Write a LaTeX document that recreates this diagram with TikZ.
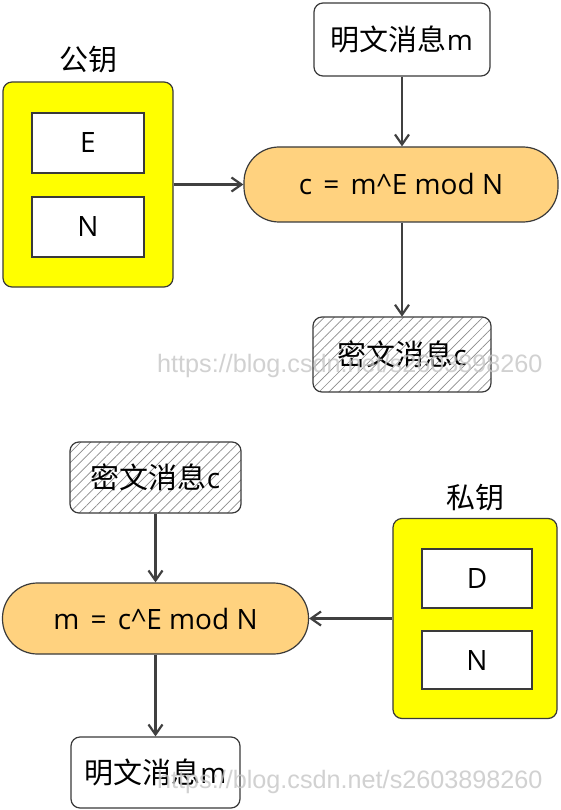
\documentclass[tikz,border=0pt]{standalone}
\usepackage{fontspec}
\setmainfont{Open Sans}
\newfontfamily\cjk{Noto Sans CJK SC}
\newfontfamily\wmfont{Liberation Sans}
\usetikzlibrary{arrows.meta,patterns.meta}
\definecolor{keyyellow}{HTML}{FFFF00}
\definecolor{opfill}{HTML}{FFD27F}
\definecolor{edge}{HTML}{3A3A3A}
\definecolor{arrowc}{HTML}{404040}
\newcommand{\eqsp}{\hspace{0.4em}}
\tikzset{
  txt/.style={font=\fontsize{28}{32}\selectfont},
  keybox/.style={draw=edge, line width=1.2pt, fill=keyyellow, rounded corners=9pt, inner sep=0pt},
  fieldbox/.style={draw=edge, line width=1.2pt, fill=white, inner sep=0pt, txt},
  msgbox/.style={draw=edge, line width=1.2pt, fill=white, rounded corners=9pt, inner sep=0pt, txt},
  cipherbox/.style={draw=edge, line width=1.2pt, rounded corners=9pt, inner sep=0pt, txt,
    pattern={Lines[angle=45,distance=7pt,line width=0.7pt]}, pattern color=gray!90},
  opbox/.style={draw=edge, line width=1.2pt, fill=opfill, rounded corners=35pt, inner sep=0pt, txt},
  flow/.style={draw=arrowc, line width=2.2pt, -{Straight Barb[length=10pt,width=14pt]}},
  keylabel/.style={inner sep=0pt, font=\cjk\fontsize{29}{32}\selectfont},
  watermark/.style={inner sep=0pt, text=gray!45, opacity=0.8, font=\wmfont\fontsize{25.2}{28}\selectfont, anchor=base west}
}
\begin{document}
\begin{tikzpicture}[x=1pt,y=-1pt]
\useasboundingbox[fill=white] (0,0) rectangle (560,810);
% ---------- encryption ----------
\node[keybox, minimum width=170pt, minimum height=205pt] (pub) at (88,184.5) {};
\node[keylabel] (publabel) at (88,60) {公钥};
\node[fieldbox, minimum width=112pt, minimum height=60pt] (pubE) at (88,143) {E};
\node[fieldbox, minimum width=112pt, minimum height=60pt] (pubN) at (88,227) {N};
\node[msgbox, minimum width=176pt, minimum height=73pt] (mtop) at (402,39.5) {{\cjk\fontsize{29}{32}\selectfont 明文消息}m};
\node[opbox, minimum width=314pt, minimum height=75pt] (enc) at (401,184.5) {c\eqsp=\eqsp m\^{}E mod N};
\node[cipherbox, minimum width=178pt, minimum height=75pt] (ctop) at (402,354.5) {{\cjk\fontsize{29}{32}\selectfont 密文消息}c};
\draw[flow] (mtop.south) -- (mtop.south |- enc.north);
\draw[flow] (pub.east) -- (enc.west);
\draw[flow] (mtop.south |- enc.south) -- (ctop.north);
% ---------- decryption ----------
\node[cipherbox, minimum width=171pt, minimum height=71pt] (cbot) at (155.5,477.5) {{\cjk\fontsize{29}{32}\selectfont 密文消息}c};
\node[opbox, minimum width=306pt, minimum height=71pt] (dec) at (155.5,618.5) {m\eqsp=\eqsp c\^{}E mod N};
\node[msgbox, minimum width=169pt, minimum height=71pt] (mbot) at (155.5,772.5) {{\cjk\fontsize{29}{32}\selectfont 明文消息}m};
\node[keybox, minimum width=164pt, minimum height=200pt] (priv) at (475,618.5) {};
\node[keylabel] (privlabel) at (475,498) {私钥};
\node[fieldbox, minimum width=110pt, minimum height=59pt] (privD) at (477,578.5) {D};
\node[fieldbox, minimum width=110pt, minimum height=58pt] (privN) at (477,660) {N};
\draw[flow] (cbot.south) -- (dec.north);
\draw[flow] (dec.south) -- (mbot.north);
\draw[flow] (priv.west) -- (dec.east);
% ---------- watermarks ----------
\node[watermark] (wm1) at (157,372) {https://blog.csdn.net/s2603898260};
\node[watermark] (wm2) at (157,788) {https://blog.csdn.net/s2603898260};
\end{tikzpicture}
\end{document}
